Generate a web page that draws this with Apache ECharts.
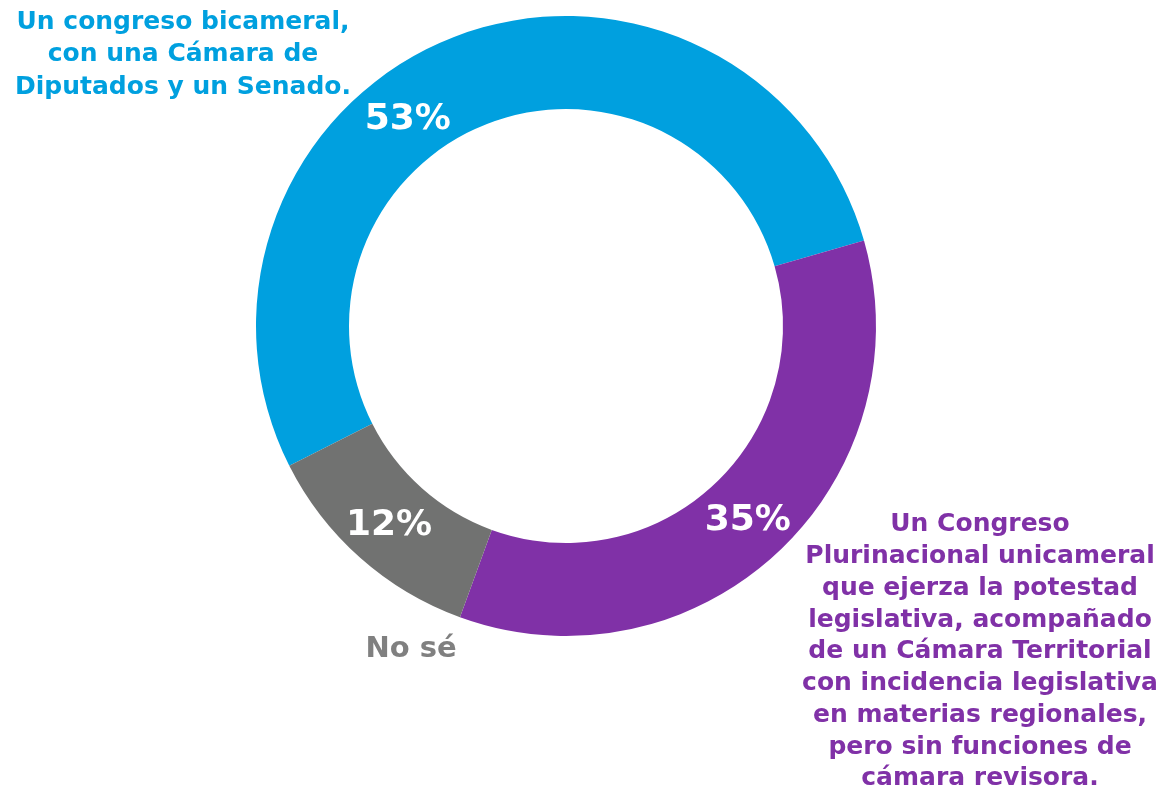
<!DOCTYPE html>
<html>
<head>
    <meta charset="utf-8">
    <title>ECharts</title>
    <script src="https://cdn.jsdelivr.net/npm/echarts@6/dist/echarts.min.js"></script>
    <style>
        html, body { margin: 0; padding: 0; background: #fff; }
        #main { width: 1160px; height: 792px; }
    </style>
</head>
<body>
    <div id="main"></div>
    <script type="text/javascript">
        // datos
        var categorias = [
            'Un congreso bicameral,\ncon una Cámara de\nDiputados y un Senado.',
            'Un Congreso\nPlurinacional unicameral\nque ejerza la potestad\nlegislativa, acompañado\nde un Cámara Territorial\ncon incidencia legislativa\nen materias regionales,\npero sin funciones de\ncámara revisora.',
            'No sé'
        ];
        var valores = [53, 35, 12];
        var colores = ['#00a0df', '#8031a7', '#717271'];
        var coloresTexto = ['#00a0df', '#8031a7', '#808080'];

        var fuente = '"DejaVu Sans", sans-serif';

        var myChart = echarts.init(document.getElementById('main'));

        var datos = valores.map(function (v, i) {
            var d = {
                name: categorias[i],
                value: v,
                itemStyle: { color: colores[i] }
            };
            if (i == 0) {
                d.label = { offset: [-61, 42] };
            }
            return d;
        });

        var option = {
            backgroundColor: '#fff',
            animation: false,
            series: [
                {
                    type: 'pie',
                    radius: [217, 310],
                    center: [566, 326],
                    startAngle: 206.8,
                    clockwise: true,
                    avoidLabelOverlap: false,
                    label: {
                        show: true,
                        position: 'inside',
                        formatter: '{c}%',
                        color: '#fff',
                        fontFamily: fuente,
                        fontWeight: 'bold',
                        fontSize: 36,
                        textBorderWidth: 0
                    },
                    labelLine: { show: false },
                    itemStyle: { borderWidth: 0 },
                    emphasis: { disabled: true },
                    data: datos
                }
            ],
            graphic: [
                {
                    type: 'text',
                    x: 183,
                    y: 6,
                    style: {
                        text: categorias[0],
                        fill: coloresTexto[0],
                        font: 'bold 25px ' + fuente,
                        textAlign: 'center',
                        textVerticalAlign: 'top',
                        lineHeight: 32.5
                    }
                },
                {
                    type: 'text',
                    x: 980,
                    y: 509,
                    style: {
                        text: categorias[1],
                        fill: coloresTexto[1],
                        font: 'bold 25px ' + fuente,
                        textAlign: 'center',
                        textVerticalAlign: 'top',
                        lineHeight: 31.75
                    }
                },
                {
                    type: 'text',
                    x: 411,
                    y: 632,
                    style: {
                        text: categorias[2],
                        fill: coloresTexto[2],
                        font: 'bold 29px ' + fuente,
                        textAlign: 'center',
                        textVerticalAlign: 'top',
                        lineHeight: 34
                    }
                }
            ]
        };

        myChart.setOption(option);
    </script>
</body>
</html>
